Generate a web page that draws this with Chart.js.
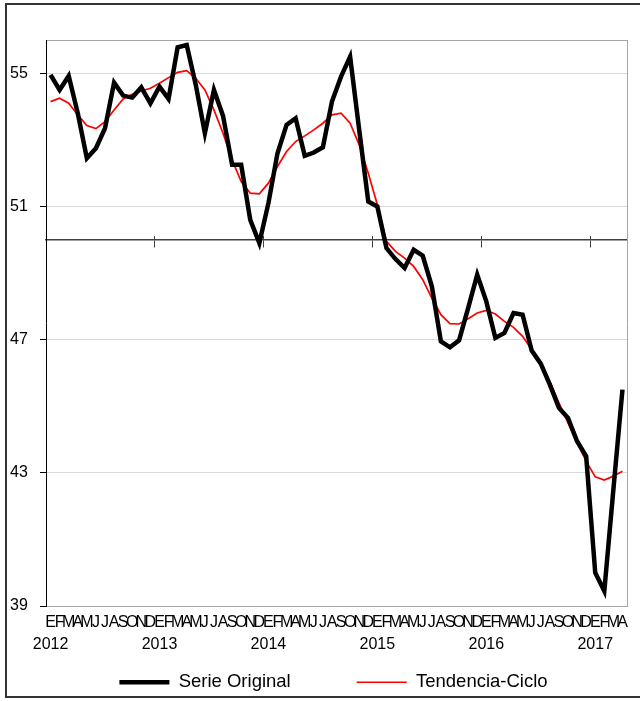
<!DOCTYPE html>
<html>
<head>
<meta charset="utf-8">
<script src="https://cdn.jsdelivr.net/npm/chart.js@4"></script>
<style>
  html, body { margin: 0; padding: 0; background: #fff; }
  #wrap { position: relative; width: 640px; height: 701px; overflow: hidden; }
  #wrap canvas { position: absolute; left: 0; top: 0; }
  #frame { position: absolute; left: 5px; top: 3px; width: 700px; height: 695px;
           border: 2px solid #333; box-sizing: border-box; pointer-events: none; }
</style>
</head>
<body>
<div id="wrap">
  <canvas id="chart" width="640" height="701"></canvas>
  <div id="frame"></div>
</div>
<script>
// Month initials and years for the category axis
const months = ['E', 'F', 'M', 'A', 'M', 'J', 'J', 'A', 'S', 'O', 'N', 'D'];
const years = ['2012', '2013', '2014', '2015', '2016', '2017'];

// Monthly index, Jan 2012 - Apr 2017
const serieOriginal = [
  54.95, 54.5, 54.92, 53.8, 52.45, 52.75, 53.35, 54.72, 54.33, 54.27, 54.58, 54.1,
  54.6, 54.23, 55.78, 55.85, 54.65, 53.2, 54.5, 53.72, 52.25, 52.25, 50.6, 49.9,
  51.1, 52.6, 53.45, 53.65, 52.52, 52.62, 52.78, 54.15, 54.9, 55.5, 53.3, 51.15,
  51.0, 49.75, 49.42, 49.15, 49.7, 49.52, 48.6, 46.95, 46.77, 46.98, 47.95, 48.95,
  48.15, 47.05, 47.2, 47.8, 47.75, 46.67, 46.28, 45.65, 44.95, 44.65, 43.95, 43.5,
  40.0, 39.45, 42.5, 45.5
];
const tendenciaCiclo = [
  54.15, 54.25, 54.1, 53.75, 53.43, 53.34, 53.55, 53.9, 54.23, 54.37, 54.47, 54.55,
  54.7, 54.87, 55.03, 55.08, 54.85, 54.5, 53.9, 53.2, 52.4, 51.75, 51.4, 51.38,
  51.7, 52.2, 52.65, 52.95, 53.12, 53.3, 53.5, 53.75, 53.8, 53.5, 52.85, 52.0,
  51.05, 49.95, 49.65, 49.45, 49.2, 48.8, 48.25, 47.75, 47.48, 47.47, 47.63, 47.8,
  47.88, 47.77, 47.55, 47.37, 47.1, 46.7, 46.25, 45.75, 45.1, 44.5, 43.9, 43.35,
  42.88, 42.78, 42.9, 43.05
];
const yTicks = [39, 43, 47, 51, 55];
const yMin = 39, yMax = 56, crossValue = 50;

// Two-line labels: month initial, year under each January
const labels = serieOriginal.map((_, i) => [months[i % 12], i % 12 === 0 ? years[Math.floor(i / 12)] : '']);

const FONT = "'Liberation Sans', Arial, sans-serif";
Chart.defaults.font.family = FONT;
Chart.defaults.color = '#000';

// Tick marks only at the start of each year
const yearTick = (ctx) =>
  (ctx.index !== undefined && ctx.index > 0 && ctx.index % 12 === 0) ? '#404040' : 'rgba(0,0,0,0)';

const hidden = { display: false };

new Chart(document.getElementById('chart'), {
  type: 'line',
  data: {
    labels,
    datasets: [
      { label: 'Serie Original', data: serieOriginal, borderColor: '#000000',
        borderWidth: 4.5, pointRadius: 0, tension: 0, fill: false },
      { label: 'Tendencia-Ciclo', data: tendenciaCiclo, borderColor: '#ff0000',
        borderWidth: 1.7, pointRadius: 0, tension: 0, fill: false }
    ]
  },
  options: {
    responsive: false,
    animation: false,
    devicePixelRatio: 1,
    layout: { padding: { left: 40, right: 13, top: 40, bottom: 0 } },
    plugins: {
      tooltip: { enabled: false },
      legend: {
        position: 'bottom',
        maxHeight: 94,
        labels: {
          usePointStyle: true,
          pointStyleWidth: 50,
          padding: 66,
          color: '#000',
          font: { size: 18.5 },
          generateLabels: (chart) => chart.data.datasets.map((ds, i) => ({
            text: ds.label,
            datasetIndex: i,
            pointStyle: 'line',
            strokeStyle: ds.borderColor,
            fillStyle: ds.borderColor,
            lineWidth: ds.borderWidth,
            hidden: false,
            fontColor: '#000'
          }))
        }
      }
    },
    scales: {
      x: {
        type: 'category',
        position: 'bottom',
        offset: true,
        grid: { display: false, drawTicks: false },
        border: { display: true, color: '#a6a6a6', width: 1 },
        ticks: { autoSkip: false, maxRotation: 0, minRotation: 0, mirror: true, padding: -27.5,
                 color: '#000', font: { size: 16, lineHeight: 1.4 } },
        afterFit: (s) => { s.height = 1; }
      },
      xCross: {
        type: 'category',
        axis: 'x',
        position: { y: crossValue },
        offset: true,
        grid: { offset: true, drawOnChartArea: false, drawTicks: true, tickLength: 7,
                tickColor: yearTick, tickWidth: 1 },
        border: { display: true, color: '#404040', width: 1.5 },
        ticks: hidden
      },
      xCrossUp: {
        type: 'category',
        axis: 'x',
        position: { y: crossValue },
        offset: true,
        grid: { offset: true, drawOnChartArea: false, drawTicks: true, tickLength: -4,
                tickColor: yearTick, tickWidth: 1 },
        border: { display: false },
        ticks: hidden
      },
      xTop: {
        type: 'category',
        axis: 'x',
        position: 'top',
        grid: { display: false, drawTicks: false },
        border: { display: true, color: '#a6a6a6', width: 1 },
        ticks: hidden
      },
      y: {
        type: 'linear',
        position: 'left',
        min: yMin,
        max: yMax,
        afterBuildTicks: (s) => { s.ticks = yTicks.map(v => ({ value: v })); },
        afterFit: (s) => { s.width = 6; },
        grid: { color: '#d9d9d9', lineWidth: 1, drawTicks: true, tickLength: 6, tickColor: '#000' },
        border: { display: true, color: '#000', width: 1 },
        ticks: { mirror: true, padding: -36, color: '#000', font: { size: 16 } }
      },
      yRight: {
        type: 'linear',
        axis: 'y',
        position: 'right',
        min: yMin,
        max: yMax,
        grid: { display: false, drawTicks: false },
        border: { display: true, color: '#a6a6a6', width: 1 },
        ticks: hidden
      }
    }
  }
});
</script>
</body>
</html>
